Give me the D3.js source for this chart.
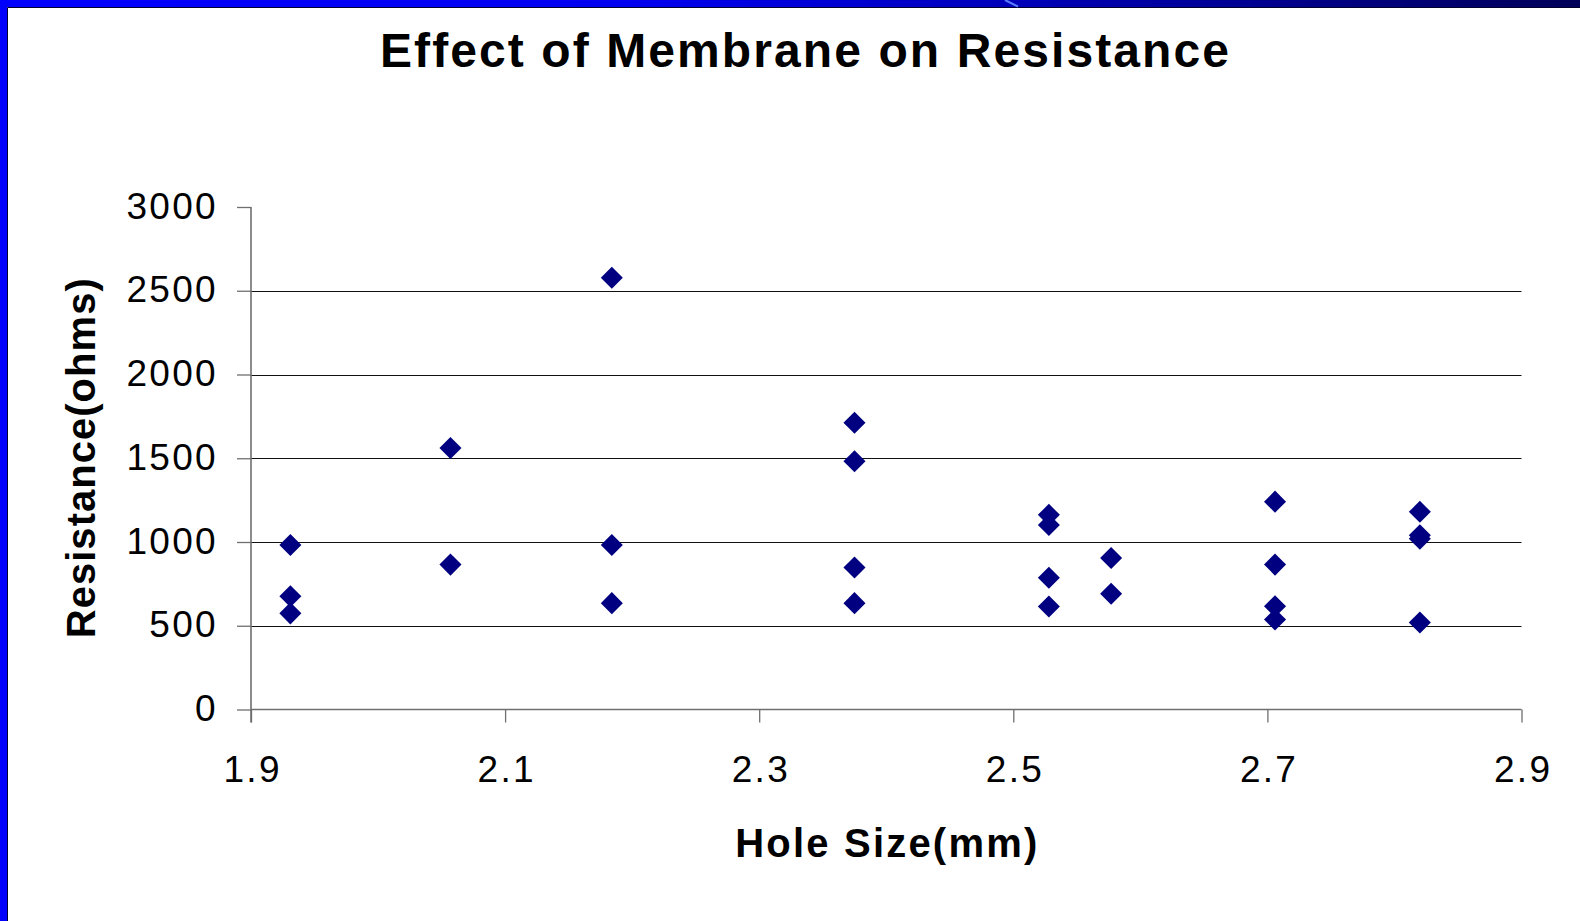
<!DOCTYPE html>
<html>
<head>
<meta charset="utf-8">
<script src="https://cdn.jsdelivr.net/npm/d3@7"></script>
<style>
  html, body { margin: 0; padding: 0; background: #fff; }
  svg { display: block; }
</style>
</head>
<body>
<svg id="chart" width="1580" height="921"></svg>
<script>
// ---- data ----
const holeSize = [
  1.931, 1.931, 1.931,
  2.057, 2.057,
  2.184, 2.184, 2.184,
  2.375, 2.375, 2.375, 2.375,
  2.528, 2.528, 2.528, 2.528,
  2.577, 2.577,
  2.706, 2.706, 2.706, 2.706,
  2.820, 2.820, 2.820, 2.820
];
const resistance = [
  982, 676, 574,
  1561, 865,
  2578, 982, 635,
  1712, 1482, 848, 635,
  1162, 1101, 787, 615,
  904, 691,
  1241, 865, 617, 537,
  1180, 1040, 1020, 519
];
const xTickValues = [1.9, 2.1, 2.3, 2.5, 2.7, 2.9];
const xTickLabels = ["1.9", "2.1", "2.3", "2.5", "2.7", "2.9"];
const yTickValues = [0, 500, 1000, 1500, 2000, 2500, 3000];
const yTickLabels = ["0", "500", "1000", "1500", "2000", "2500", "3000"];
const titleText = "Effect of Membrane on Resistance";
const xAxisTitle = "Hole Size(mm)";
const yAxisTitle = "Resistance(ohms)";

const svg = d3.select("#chart");
const FONT = "'Liberation Sans', Arial, sans-serif";

// ---- frame decoration (slide border) ----
const defs = svg.append("defs");
const grad = defs.append("linearGradient").attr("id", "topbar")
  .attr("x1", "0%").attr("x2", "100%").attr("y1", "0%").attr("y2", "0%");
grad.append("stop").attr("offset", "0%").attr("stop-color", "#0000ff");
grad.append("stop").attr("offset", "40%").attr("stop-color", "#0000f0");
grad.append("stop").attr("offset", "65%").attr("stop-color", "#0000b8");
grad.append("stop").attr("offset", "100%").attr("stop-color", "#000058");
svg.append("rect").attr("x", 0).attr("y", 0).attr("width", 1580).attr("height", 7).attr("fill", "url(#topbar)");
svg.append("rect").attr("x", 0).attr("y", 0).attr("width", 7).attr("height", 921).attr("fill", "#0000ff");
svg.append("line").attr("x1", 7.5).attr("x2", 1580).attr("y1", 7.5).attr("y2", 7.5).attr("stroke", "#000030").attr("stroke-width", 1);
svg.append("line").attr("x1", 7.5).attr("x2", 7.5).attr("y1", 7.5).attr("y2", 921).attr("stroke", "#000030").attr("stroke-width", 1);
svg.append("line").attr("x1", 1005).attr("y1", 0).attr("x2", 1018).attr("y2", 6.5)
  .attr("stroke", "#5a7cff").attr("stroke-width", 2);

// ---- scales ----
const x = d3.scaleLinear().domain([1.9, 2.9]).range([251, 1521.5]);
const y = d3.scaleLinear().domain([0, 3000]).range([709.5, 207]);

// ---- gridlines ----
svg.append("g").selectAll("line")
  .data(yTickValues.filter(v => v > 0 && v < 3000))
  .join("line")
  .attr("x1", x(1.9)).attr("x2", x(2.9))
  .attr("y1", d => Math.round(y(d)) + 0.5).attr("y2", d => Math.round(y(d)) + 0.5)
  .attr("stroke", "#111").attr("stroke-width", 1.2);

// ---- y axis ----
const yAxis = d3.axisLeft(y)
  .tickValues(yTickValues)
  .tickFormat((d, i) => yTickLabels[i])
  .tickSize(14)
  .tickPadding(19);
const gy = svg.append("g").attr("transform", `translate(${x(1.9)},0)`).call(yAxis);
gy.select(".domain").remove();
gy.selectAll(".tick line").attr("stroke", "#6f6f6f").attr("stroke-width", 1.3);
gy.selectAll(".tick text")
  .attr("font-family", FONT).attr("font-size", 37).attr("fill", "#000")
  .style("letter-spacing", "2.3px").attr("dy", "0.3em");

// ---- x axis ----
const xAxis = d3.axisBottom(x)
  .tickValues(xTickValues)
  .tickFormat((d, i) => xTickLabels[i])
  .tickSize(13)
  .tickPadding(33);
const gx = svg.append("g").attr("transform", `translate(0,${y(0)})`).call(xAxis);
gx.select(".domain").remove();
gx.selectAll(".tick line").attr("stroke", "#6f6f6f").attr("stroke-width", 1.3);
gx.selectAll(".tick text")
  .attr("font-family", FONT).attr("font-size", 37).attr("fill", "#000")
  .style("letter-spacing", "2.3px").attr("dx", "1.15px");

// axis lines
svg.append("line")
  .attr("x1", x(1.9)).attr("x2", x(2.9)).attr("y1", y(0)).attr("y2", y(0))
  .attr("stroke", "#6f6f6f").attr("stroke-width", 1.6);
svg.append("line")
  .attr("x1", x(1.9)).attr("x2", x(1.9)).attr("y1", y(3000)).attr("y2", y(0) + 13)
  .attr("stroke", "#6f6f6f").attr("stroke-width", 1.6);

// ---- points ----
const pts = holeSize.map((h, i) => ({ h, r: resistance[i] }));
const diamond = d3.symbol().type(d3.symbolSquare).size(243);
svg.append("g").selectAll("path")
  .data(pts)
  .join("path")
  .attr("d", diamond)
  .attr("transform", d => `translate(${x(d.h)},${y(d.r)}) rotate(45)`)
  .attr("fill", "#000080");

// ---- titles ----
svg.append("text")
  .attr("x", 804.5).attr("y", 66.7)
  .attr("text-anchor", "middle")
  .attr("font-family", FONT).attr("font-size", 48).attr("font-weight", "bold")
  .attr("textLength", 849).attr("lengthAdjust", "spacing")
  .text(titleText);

svg.append("text")
  .attr("x", (x(1.9) + x(2.9)) / 2).attr("y", 856.7)
  .attr("text-anchor", "middle")
  .attr("font-family", FONT).attr("font-size", 40).attr("font-weight", "bold")
  .attr("textLength", 302).attr("lengthAdjust", "spacing")
  .text(xAxisTitle);

svg.append("text")
  .attr("transform", `translate(95,${(y(0) + y(3000)) / 2}) rotate(-90)`)
  .attr("text-anchor", "middle")
  .attr("font-family", FONT).attr("font-size", 40).attr("font-weight", "bold")
  .attr("textLength", 360).attr("lengthAdjust", "spacing")
  .text(yAxisTitle);
</script>
</body>
</html>
